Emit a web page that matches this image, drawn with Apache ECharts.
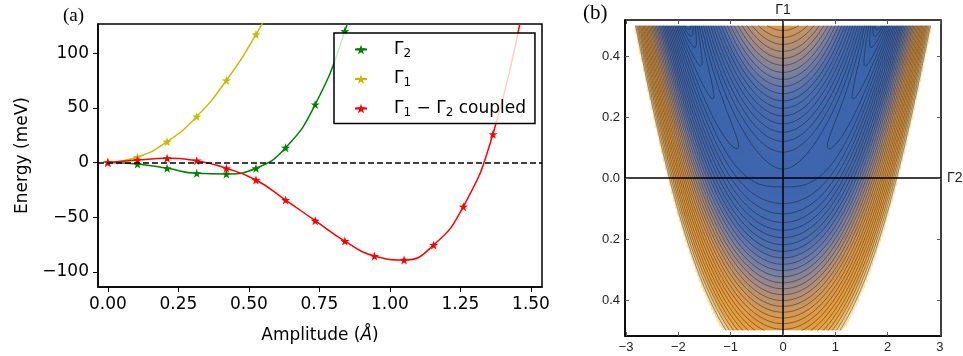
<!DOCTYPE html>
<html><head><meta charset="utf-8">
<script src="https://cdn.jsdelivr.net/npm/echarts@6/dist/echarts.min.js"></script>
<style>html,body{margin:0;padding:0;background:#fff}#c{width:963px;height:356px}</style>
</head><body><div id="c"></div>
<script>
// ---------- panel (a) data ----------
const amplitudeG1 = [0, 0.105, 0.21, 0.315, 0.42, 0.525, 0.63];
const energyG1 = [0, 5, 19, 42, 75, 117, 168];
const amplitudeG2 = [0, 0.105, 0.21, 0.315, 0.42, 0.525, 0.63, 0.735, 0.84, 0.945];
const energyG2 = [0, -1.4, -5.3, -9.9, -10.5, -5.3, 13.5, 53, 120, 215];
const amplitudeCoupled = [0, 0.105, 0.21, 0.315, 0.42, 0.525, 0.63, 0.735, 0.84, 0.945, 1.05, 1.155, 1.26, 1.365, 1.47];
const energyCoupled = [0, 2.3, 3.8, 1.7, -5.3, -16, -34.3, -53.2, -71.8, -85.5, -89.1, -75.4, -40.4, 25.8, 140];
const xTicksA = [0, 0.25, 0.5, 0.75, 1.0, 1.25, 1.5];
const yTicksA = [-100, -50, 0, 50, 100];
const seriesNamesA = ['G2', 'G1', 'G12'];

// ---------- panel (b) data: Landau-type surface E(Γ2=u, Γ1=v) ----------
// coefficients of u^4, u^2, v^2, u^2*v, v^3
const potentialCoeffs = [1, -0.357, 44.3, -12.5, -9];
const energyCutoff = 21.7;
const contourOffset = 0.22;   // contour levels equally spaced in sqrt(E - Emin)
const contourSpacing = 0.13;
const uRange = [-3, 3];
const vRange = [-0.5, 0.5];
const xTicksB = [-3, -2, -1, 0, 1, 2, 3];
const yTicksB = [-0.4, -0.2, 0, 0.2, 0.4];
const colorStops = ['#315b9f', '#3a63a8', '#3e67ae', '#4469af', '#4d6eae', '#7a81a0',
                    '#b08f78', '#d9994e', '#e69c3c', '#eaa647', '#f7e9b8'];

function energy(u, v) {
  const k = potentialCoeffs, u2 = u * u;
  return k[0] * u2 * u2 + k[1] * u2 + k[2] * v * v + k[3] * u2 * v + k[4] * v * v * v;
}

const STAR = 'path://M0,-10L2.35,-3.24L9.51,-3.09L3.8,1.24L5.88,8.09L0,4L-5.88,8.09L-3.8,1.24L-9.51,-3.09L-2.35,-3.24Z';
const zip = (xs, ys) => xs.map((x, i) => [x, ys[i]]);

// ---------- panel (b) computations ----------
const bXmin = -3.02, bXmax = 3.02, bYmin = -0.518, bYmax = 0.518;
const NU = 241, NV = 201;
const du = (uRange[1] - uRange[0]) / (NU - 1), dv = (vRange[1] - vRange[0]) / (NV - 1);
const F = new Float64Array(NU * NV);
let eMin = Infinity;
for (let j = 0; j < NV; j++) for (let i = 0; i < NU; i++) {
  const e = energy(uRange[0] + i * du, vRange[0] + j * dv);
  F[j * NU + i] = e; if (e < eMin) eMin = e;
}
eMin -= 1e-4;
const wMax = Math.sqrt(energyCutoff - eMin);

const NC = 158;
const heatX = [], heatY = [], heatData = [];
for (let i = 0; i < NC; i++) heatX.push(i);
for (let j = 0; j < NC; j++) heatY.push(j);
for (let i = 0; i < NC; i++) {
  const u = bXmin + (i + 0.5) * (bXmax - bXmin) / NC;
  if (u < uRange[0] || u > uRange[1]) continue;
  for (let j = 0; j < NC; j++) {
    const v = bYmin + (j + 0.5) * (bYmax - bYmin) / NC;
    if (v < vRange[0] || v > vRange[1]) continue;
    const e = energy(u, v);
    if (e <= energyCutoff) heatData.push([i, j, Math.sqrt(Math.max(0, e - eMin))]);
  }
}
// contours (marching squares), levels at Emin + (offset + k*spacing)^2
const segs = [];
const wOf = e => Math.sqrt(Math.max(0, e - eMin));
for (let j = 0; j < NV - 1; j++) for (let i = 0; i < NU - 1; i++) {
  const a = F[j * NU + i], b = F[j * NU + i + 1], c = F[(j + 1) * NU + i + 1], d = F[(j + 1) * NU + i];
  const mn = Math.min(a, b, c, d), mx = Math.max(a, b, c, d);
  const k0 = Math.max(0, Math.ceil((wOf(mn) - contourOffset) / contourSpacing));
  const k1 = Math.floor((wOf(mx) - contourOffset) / contourSpacing);
  const x0 = uRange[0] + i * du, y0 = vRange[0] + j * dv;
  for (let k = k0; k <= k1; k++) {
    const w = contourOffset + k * contourSpacing;
    const L = eMin + w * w;
    if (L >= energyCutoff) break;
    const p = [];
    if ((a < L) !== (b < L)) p.push([x0 + du * (L - a) / (b - a), y0]);
    if ((b < L) !== (c < L)) p.push([x0 + du, y0 + dv * (L - b) / (c - b)]);
    if ((c < L) !== (d < L)) p.push([x0 + du * (1 - (L - c) / (d - c)), y0 + dv]);
    if ((d < L) !== (a < L)) p.push([x0, y0 + dv * (1 - (L - d) / (a - d))]);
    if (p.length >= 2) segs.push({coords: [p[0], p[1]]});
    if (p.length === 4) segs.push({coords: [p[2], p[3]]});
  }
}

const chart = echarts.init(document.getElementById('c'), null, {renderer: 'canvas'});
const fA = 'DejaVu Sans', fB = 'Liberation Sans';
const minus = s => String(s).replace('-', '\u2212');
const legendRich = {
  t: {fontFamily: fA, fontSize: 17, color: '#000'},
  s: {fontFamily: fA, fontSize: 12, color: '#000', padding: [8, 0, 0, 0]}
};
const legendLabels = {
  G2: '{t|Γ}{s|2}',
  G1: '{t|Γ}{s|1}',
  G12: '{t|Γ}{s|1}{t| − Γ}{s|2}{t| coupled}'
};

const option = {
  animation: false,
  backgroundColor: '#fff',
  grid: [
    {left: 98, top: 24, width: 444, height: 263, show: true, borderColor: '#000', borderWidth: 1.5, backgroundColor: 'transparent'},
    {left: 625, top: 20, width: 316, height: 316, show: true, borderColor: '#000', borderWidth: 1.5, backgroundColor: 'transparent', z: 5},
    {left: 625, top: 20, width: 316, height: 316, show: false}
  ],
  xAxis: [
    {gridIndex: 0, type: 'value', min: -0.035, max: 1.539,
     name: 'Amplitude ({i|Å})', nameLocation: 'middle', nameGap: 40,
     nameTextStyle: {fontFamily: fA, fontSize: 17, color: '#000', rich: {i: {fontFamily: fA, fontSize: 17, fontStyle: 'italic', color: '#000'}}},
     axisLine: {show: true, onZero: false, lineStyle: {color: '#000', width: 1.5}},
     axisTick: {show: true, inside: false, length: 5, lineStyle: {color: '#000', width: 1}, customValues: xTicksA},
     axisLabel: {fontFamily: fA, fontSize: 17, color: '#000', margin: 9, customValues: xTicksA, formatter: v => v.toFixed(2)},
     splitLine: {show: false}},
    {gridIndex: 1, type: 'value', min: bXmin, max: bXmax,
     axisLine: {show: true, onZero: false, lineStyle: {color: '#000', width: 1.5}},
     axisTick: {show: true, inside: true, length: 4, lineStyle: {color: '#555', width: 1}, customValues: xTicksB},
     axisLabel: {fontFamily: fB, fontSize: 13, color: '#222', margin: 5, customValues: xTicksB, formatter: v => minus(v)},
     splitLine: {show: false}, z: 6},
    {gridIndex: 2, type: 'category', data: heatX, show: false, boundaryGap: true},
    {gridIndex: 1, type: 'value', position: 'top', min: bXmin, max: bXmax,
     axisLine: {show: false, onZero: false}, axisLabel: {show: false},
     axisTick: {show: true, inside: true, length: 4, lineStyle: {color: '#555', width: 1}, customValues: xTicksB},
     splitLine: {show: false}, z: 6}
  ],
  yAxis: [
    {gridIndex: 0, type: 'value', min: -113.8, max: 126.6,
     name: 'Energy (meV)', nameLocation: 'middle', nameGap: 67,
     nameTextStyle: {fontFamily: fA, fontSize: 17, color: '#000'},
     axisLine: {show: true, onZero: false, lineStyle: {color: '#000', width: 1.5}},
     axisTick: {show: true, inside: false, length: 5, lineStyle: {color: '#000', width: 1}, customValues: yTicksA},
     axisLabel: {fontFamily: fA, fontSize: 17, color: '#000', margin: 9, customValues: yTicksA, formatter: v => minus(v)},
     splitLine: {show: false}},
    {gridIndex: 1, type: 'value', min: bYmin, max: bYmax,
     axisLine: {show: true, onZero: false, lineStyle: {color: '#000', width: 1.5}},
     axisTick: {show: true, inside: true, length: 4, lineStyle: {color: '#555', width: 1}, customValues: yTicksB},
     axisLabel: {fontFamily: fB, fontSize: 13, color: '#222', margin: 5, customValues: yTicksB, formatter: v => Math.abs(v).toFixed(1)},
     splitLine: {show: false}, z: 6},
    {gridIndex: 2, type: 'category', data: heatY, show: false, boundaryGap: true},
    {gridIndex: 1, type: 'value', position: 'right', min: bYmin, max: bYmax,
     axisLine: {show: false, onZero: false}, axisLabel: {show: false},
     axisTick: {show: true, inside: true, length: 4, lineStyle: {color: '#555', width: 1}, customValues: yTicksB},
     splitLine: {show: false}, z: 6}
  ],
  legend: {
    data: seriesNamesA, orient: 'vertical', left: 334, top: 33,
    padding: [8, 9, 5, 20], itemWidth: 12, itemHeight: 12, itemGap: 11,
    backgroundColor: 'rgba(255,255,255,0.8)', borderColor: '#000', borderWidth: 1.5, borderRadius: 0,
    z: 10, selectedMode: false,
    formatter: n => legendLabels[n],
    textStyle: {fontFamily: fA, fontSize: 17, color: '#000', padding: [0, 0, 0, 22], rich: legendRich}
  },
  visualMap: {type: 'continuous', show: false, seriesIndex: 3, dimension: 2,
    min: 0, max: wMax, inRange: {color: colorStops}},
  graphic: [
    {type: 'text', left: 63, top: 7, style: {text: '(a)', font: '19px "Liberation Serif"', fill: '#000'}},
    {type: 'text', left: 583, top: 3, style: {text: '(b)', font: '21px "Liberation Serif"', fill: '#000'}}
  ],
  series: [
    {name: 'G2', type: 'line', xAxisIndex: 0, yAxisIndex: 0, data: zip(amplitudeG2, energyG2),
     smooth: 0.5, symbol: STAR, symbolSize: 9, showAllSymbol: true, color: '#008000',
     lineStyle: {color: '#008000', width: 1.5}, itemStyle: {color: '#008000'}, clip: true, z: 3},
    {name: 'G1', type: 'line', xAxisIndex: 0, yAxisIndex: 0, data: zip(amplitudeG1, energyG1),
     smooth: 0.5, symbol: STAR, symbolSize: 9, showAllSymbol: true, color: '#bfbf00',
     lineStyle: {color: '#bfbf00', width: 1.5}, itemStyle: {color: '#bfbf00'}, clip: true, z: 3},
    {name: 'G12', type: 'line', xAxisIndex: 0, yAxisIndex: 0, data: zip(amplitudeCoupled, energyCoupled),
     smooth: 0.5, symbol: STAR, symbolSize: 9, showAllSymbol: true, color: '#ff0000',
     lineStyle: {color: '#ff0000', width: 1.5}, itemStyle: {color: '#ff0000'}, clip: true, z: 3,
     markLine: {silent: true, symbol: 'none', label: {show: false},
       lineStyle: {color: '#000', width: 1.5, type: [6, 3]}, data: [{yAxis: 0}]}},
    {name: 'surface', type: 'heatmap', xAxisIndex: 2, yAxisIndex: 2, data: heatData,
     progressive: 0, silent: true, itemStyle: {borderWidth: 0}, z: 1},
    {name: 'contours', type: 'lines', coordinateSystem: 'cartesian2d', xAxisIndex: 1, yAxisIndex: 1,
     data: segs, large: true, largeThreshold: 100, progressive: 0, silent: true, polyline: false,
     lineStyle: {color: 'rgba(15,15,25,0.55)', width: 0.8, opacity: 1}, z: 3},
    {name: 'axes', type: 'line', xAxisIndex: 1, yAxisIndex: 1, data: [[0, 0]], showSymbol: false, symbol: 'none',
     lineStyle: {width: 0}, z: 4,
     markLine: {silent: true, symbol: 'none', lineStyle: {color: '#000', width: 1.5, type: 'solid'},
       data: [
         {xAxis: 0, label: {show: true, position: 'end', distance: 3, formatter: 'Γ1', fontFamily: fB, fontSize: 14, color: '#222'}},
         {yAxis: 0, label: {show: true, position: 'end', distance: 6, formatter: 'Γ2', fontFamily: fB, fontSize: 14, color: '#222'}}
       ]}}
  ]
};
chart.setOption(option);
</script></body></html>
